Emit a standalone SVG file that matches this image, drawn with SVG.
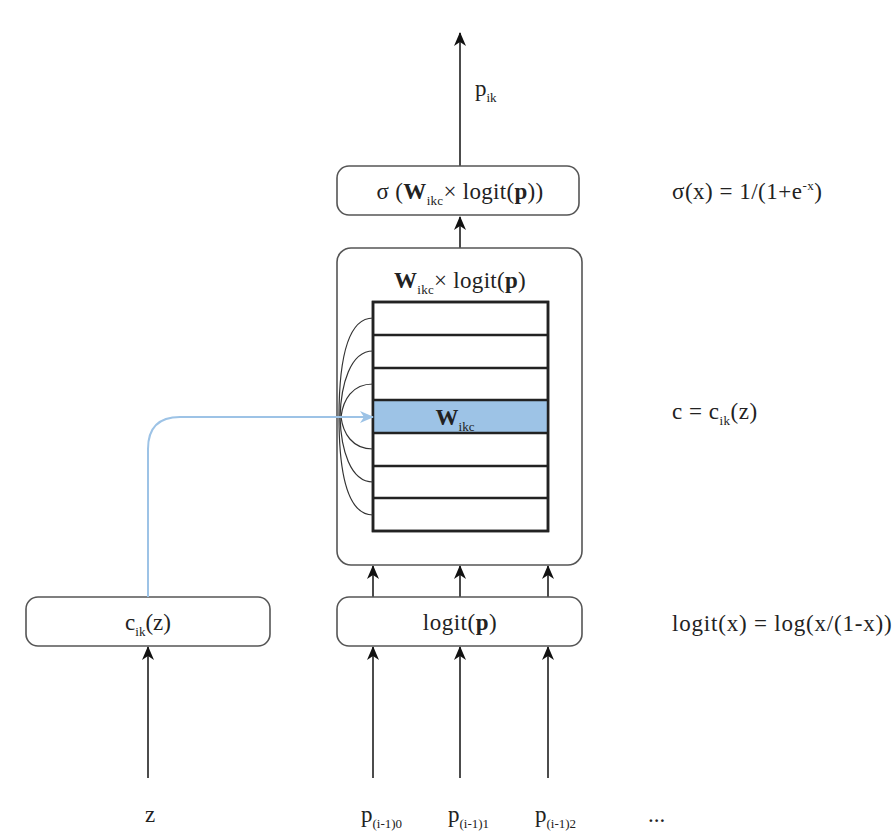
<svg xmlns="http://www.w3.org/2000/svg" width="896" height="834" viewBox="0 0 896 834">
<defs>
<marker id="ah" markerUnits="userSpaceOnUse" markerWidth="14" markerHeight="12" refX="13" refY="6" orient="auto"><path d="M0,0 L14,6 L0,12 L4,6 Z" fill="#111"/></marker>
<marker id="ahb" markerUnits="userSpaceOnUse" markerWidth="14" markerHeight="12" refX="13" refY="6" orient="auto"><path d="M0,0 L14,6 L0,12 L4,6 Z" fill="#9dc3e6"/></marker>
<style>
.box{fill:#fff;stroke:#555;stroke-width:1.6}
.grid{fill:#fff;stroke:#222;stroke-width:2.5}
.t{font-size:23px;fill:#222}
.s{font-size:13px}
.b{font-weight:bold}
.ar{stroke:#111;stroke-width:1.5;fill:none;marker-end:url(#ah)}
.cv{stroke:#333;stroke-width:1.2;fill:none}
</style>
</defs>
<rect width="896" height="834" fill="#fff"/>
<g id="connectors">
<line class="ar" x1="460" y1="166" x2="460" y2="33"/>
<line class="ar" x1="460" y1="248" x2="460" y2="217"/>
<line class="ar" x1="373" y1="597" x2="373" y2="566"/>
<line class="ar" x1="460" y1="597" x2="460" y2="566"/>
<line class="ar" x1="548" y1="597" x2="548" y2="566"/>
<line class="ar" x1="373" y1="778" x2="373" y2="647"/>
<line class="ar" x1="460" y1="778" x2="460" y2="647"/>
<line class="ar" x1="548" y1="778" x2="548" y2="647"/>
<line class="ar" x1="148" y1="778" x2="148" y2="647"/>
</g>
<g font-family="Liberation Serif, Times New Roman, serif">
<g id="sigma-box">
<rect class="box" x="337" y="166" width="242" height="49" rx="12"/>
<text class="t" x="460" y="199" text-anchor="middle" letter-spacing="0.3">σ (<tspan class="b">W</tspan><tspan class="s" dy="6">ikc</tspan><tspan dy="-6">× logit(</tspan><tspan class="b">p</tspan>))</text>
</g>
<g id="weight-box">
<rect class="box" x="337" y="248" width="245" height="317" rx="14"/>
<text class="t" x="460" y="288" text-anchor="middle" letter-spacing="0.3"><tspan class="b">W</tspan><tspan class="s" dy="6">ikc</tspan><tspan dy="-6">× logit(</tspan><tspan class="b">p</tspan>)</text>
<rect class="grid" x="373" y="302" width="175" height="229"/>
<rect x="373" y="400" width="175" height="33" fill="#9dc3e6"/>
<g stroke="#222" stroke-width="2.5">
<line x1="373" y1="335" x2="548" y2="335"/>
<line x1="373" y1="368" x2="548" y2="368"/>
<line x1="373" y1="400" x2="548" y2="400"/>
<line x1="373" y1="433" x2="548" y2="433"/>
<line x1="373" y1="466" x2="548" y2="466"/>
<line x1="373" y1="498" x2="548" y2="498"/>
</g>
<rect x="373" y="302" width="175" height="229" fill="none" stroke="#222" stroke-width="2.5"/>
<text class="t b" x="455" y="425" text-anchor="middle">W<tspan class="s" dy="6" font-weight="normal">ikc</tspan></text>
<path class="cv" d="M373,318 C345,318 339,370 339,417"/>
<path class="cv" d="M373,351 C350,351 341,385 340,417"/>
<path class="cv" d="M373,384 C352,384 343,400 341,417"/>
<path class="cv" d="M373,449 C352,449 343,433 341,417"/>
<path class="cv" d="M373,482 C350,482 341,449 340,417"/>
<path class="cv" d="M373,515 C345,515 339,464 339,417"/>
</g>
<g id="cik-box">
<rect class="box" x="26" y="597" width="244" height="49" rx="12"/>
<text class="t" x="148" y="630" text-anchor="middle">c<tspan class="s" dy="6">ik</tspan><tspan dy="-6">(z)</tspan></text>
</g>
<g id="logit-box">
<rect class="box" x="337" y="597" width="245" height="49" rx="12"/>
<text class="t" x="460" y="630" text-anchor="middle" letter-spacing="0.5">logit(<tspan class="b">p</tspan>)</text>
</g>
<g id="labels">
<text class="t" x="475" y="96">p<tspan class="s" dy="6">ik</tspan></text>
<text class="t" x="150" y="822" text-anchor="middle">z</text>
<text class="t" x="361" y="822">p<tspan class="s" dy="6">(i-1)0</tspan></text>
<text class="t" x="448" y="822">p<tspan class="s" dy="6">(i-1)1</tspan></text>
<text class="t" x="535" y="822">p<tspan class="s" dy="6">(i-1)2</tspan></text>
<text class="t" x="648" y="822">...</text>
<text class="t" x="672" y="199" letter-spacing="0.5">σ(x) = 1/(1+e<tspan class="s" dy="-9">-x</tspan><tspan dy="9">)</tspan></text>
<text class="t" x="672" y="419" letter-spacing="0.5">c = c<tspan class="s" dy="6">ik</tspan><tspan dy="-6">(z)</tspan></text>
<text class="t" x="672" y="631" letter-spacing="0.8">logit(x) = log(x/(1-x))</text>
</g>
</g>
<g id="blue-connector">
<path d="M148,597 L148,449 Q148,417 180,417 L373,417" fill="none" stroke="#9dc3e6" stroke-width="2" marker-end="url(#ahb)"/>
</g>
</svg>
